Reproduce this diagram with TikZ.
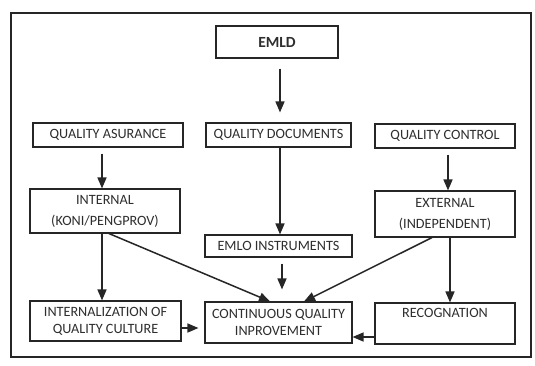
\documentclass[tikz,border=0pt]{standalone}
\usepackage{fontspec}
\setmainfont{Carlito}
\usetikzlibrary{arrows.meta}
\definecolor{ink}{HTML}{262626}
\definecolor{txt}{HTML}{2E2E2E}
\begin{document}
\begin{tikzpicture}[x=1pt,y=-1pt,
  box/.style={draw=ink,line width=1.1pt,fill=white,inner sep=2pt,align=center,
    text=txt,font=\fontsize{14.2}{17}\selectfont},
  tall/.style={font=\fontsize{14.2}{21}\selectfont},
  arr/.style={draw=ink,line width=1.5pt,-{Triangle[length=11pt,width=9pt]}}]
\useasboundingbox (0,0) rectangle (535,365);
\fill[white] (0,0) rectangle (535,365);
\draw[ink,line width=2pt] (11,13) rectangle (531,357);
% nodes
\node[box,minimum width=122pt,minimum height=32pt,font=\bfseries\fontsize{15.5}{18}\selectfont] (emld) at (277,42) {EMLD};
\node[box,minimum width=150pt,minimum height=24pt] (qa) at (108,135) {QUALITY ASURANCE};
\node[box,minimum width=145pt,minimum height=24pt] (qd) at (278.5,135) {QUALITY DOCUMENTS};
\node[box,minimum width=140pt,minimum height=24pt] (qc) at (445,136) {QUALITY CONTROL};
\node[box,tall,minimum width=150pt,minimum height=44pt] (int) at (105,211) {INTERNAL\\(KONI/PENGPROV)};
\node[box,minimum width=147pt,minimum height=22pt] (ins) at (278.5,246) {EMLO INSTRUMENTS};
\node[box,tall,minimum width=140pt,minimum height=46pt] (ext) at (445,214) {EXTERNAL\\(INDEPENDENT)};
\node[box,minimum width=151pt,minimum height=40pt] (inl) at (105.5,321) {INTERNALIZATION OF\\QUALITY CULTURE};
\node[box,minimum width=147pt,minimum height=41pt] (cqi) at (278.5,322.5) {CONTINUOUS QUALITY\\INPROVEMENT};
\node[box,minimum width=140pt,minimum height=41pt] (rec) at (445,323.5) {RECOGNATION\\\strut};
% connectors
\draw[arr] ([yshift=-10pt]emld.south -| 280,0) -- ([yshift=10pt]qd.north -| 280,0);
\draw[arr] ([yshift=-6pt]qa.south -| 102,0) -- (int.north -| 102,0);
\draw[arr] (qd.south -| 280,0) -- (ins.north -| 280,0);
\draw[arr] ([yshift=-6pt]qc.south -| 448,0) -- (ext.north -| 448,0);
\draw[arr] (int.south -| 102,0) -- (inl.north -| 102,0);
\draw[arr] (int.south -| 109,0) -- (cqi.north -| 270,0);
\draw[arr] (ext.south -| 432,0) -- (cqi.north -| 304,0);
\draw[arr] ([yshift=-6pt]ins.south -| 282,0) -- ([yshift=12pt]cqi.north -| 282,0);
\draw[arr] (ext.south -| 450,0) -- (rec.north -| 450,0);
\draw[arr] (rec.west |- 0,337) -- (cqi.east |- 0,337);
\draw[arr,shorten >=6pt] (inl.east |- 0,328) -- (cqi.west |- 0,328);
\end{tikzpicture}
\end{document}
